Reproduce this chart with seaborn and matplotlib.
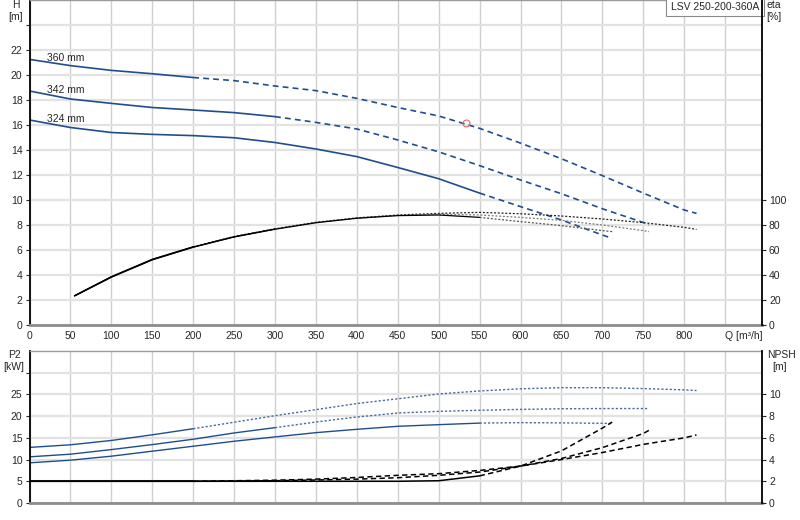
import matplotlib
matplotlib.use("Agg")
import matplotlib.pyplot as plt
import numpy as np
import seaborn as sns

# pump curves. Q in m3/h
q_360 = [0, 50, 100, 150, 200, 250, 300, 350, 400, 450, 500, 550, 600, 650, 700, 750, 800, 815]
h_360 = [21.25, 20.75, 20.37, 20.1, 19.8, 19.55, 19.12, 18.75, 18.13, 17.4, 16.72, 15.73, 14.55, 13.3, 11.95, 10.55, 9.2, 8.93]
q_342 = [0, 50, 100, 150, 200, 250, 300, 350, 400, 450, 500, 550, 600, 650, 700, 750, 757]
h_342 = [18.72, 18.08, 17.73, 17.4, 17.2, 16.99, 16.67, 16.21, 15.68, 14.8, 13.85, 12.75, 11.6, 10.5, 9.3, 8.2, 8.0]
q_324 = [0, 50, 100, 150, 200, 250, 300, 350, 400, 450, 500, 550, 600, 650, 700, 712]
h_324 = [16.4, 15.8, 15.4, 15.25, 15.15, 14.98, 14.6, 14.08, 13.47, 12.6, 11.7, 10.55, 9.47, 8.4, 7.2, 6.93]

# efficiency [%]
qe_360 = [55, 100, 150, 200, 250, 300, 350, 400, 450, 500, 550, 600, 650, 700, 750, 800, 815]
eta_360 = [23.5, 38.7, 52.6, 62.6, 70.8, 77.0, 82.2, 85.7, 88.0, 89.3, 90.1, 89.0, 87.2, 84.8, 81.9, 78.1, 76.5]
qe_342 = [55, 100, 150, 200, 250, 300, 350, 400, 450, 500, 550, 600, 650, 700, 750, 757]
eta_342 = [23.3, 38.4, 52.3, 62.4, 70.6, 76.8, 82.0, 85.5, 87.7, 88.6, 88.0, 86.1, 83.7, 80.0, 75.5, 74.7]
qe_324 = [55, 100, 150, 200, 250, 300, 350, 400, 450, 500, 550, 600, 650, 700, 712]
eta_324 = [23.2, 38.2, 52.1, 62.2, 70.4, 76.6, 81.8, 85.4, 87.5, 88.0, 86.1, 82.7, 79.5, 75.5, 74.7]

# shaft power P2 [kW]
p2_360 = [12.8, 13.4, 14.4, 15.7, 17.1, 18.6, 20.1, 21.5, 22.9, 24.0, 25.1, 25.8, 26.3, 26.55, 26.55, 26.35, 26.05, 25.9]
p2_342 = [10.63, 11.24, 12.3, 13.45, 14.68, 16.13, 17.35, 18.65, 19.8, 20.72, 21.1, 21.35, 21.55, 21.7, 21.75, 21.75, 21.75]
p2_324 = [9.25, 9.86, 10.78, 11.93, 13.07, 14.22, 15.22, 16.2, 16.97, 17.66, 18.04, 18.4, 18.5, 18.45, 18.35, 18.3]

# NPSH [m]
npsh_360 = [2.0, 2.0, 2.0, 2.0, 2.0, 2.05, 2.1, 2.2, 2.35, 2.55, 2.7, 3.0, 3.4, 4.0, 4.65, 5.4, 6.0, 6.27]
npsh_342 = [2.0, 2.0, 2.0, 2.0, 2.0, 2.02, 2.05, 2.12, 2.2, 2.33, 2.55, 2.85, 3.4, 4.1, 5.1, 6.4, 6.7]
npsh_324 = [2.0, 2.0, 2.0, 2.0, 2.0, 2.0, 2.0, 2.0, 2.0, 2.0, 2.05, 2.5, 3.4, 4.8, 6.9, 7.45]

diameters = ["360 mm", "342 mm", "324 mm"]
solid_until = [200, 300, 550]
duty_q, duty_h = [533], [16.2]
model = "LSV 250-200-360A"

BLUE = "#1f4e8f"
FONT = 7.5


def draw(ax, q, y, q_end, color, dash, lw=1.2, solid_color=None):
    q = np.asarray(q, float)
    y = np.asarray(y, float)
    i = int(np.searchsorted(q, q_end, side="right"))
    sns.lineplot(x=q[:i], y=y[:i], ax=ax, color=solid_color or color, lw=lw,
                 sort=False, estimator=None)
    if i < len(q):
        sns.lineplot(x=q[i - 1:], y=y[i - 1:], ax=ax, color=color, lw=lw,
                     linestyle=dash, sort=False, estimator=None)


def style_axes(ax, ymax, ystep, ylab_max):
    ax.set_xlim(0, 895)
    ax.set_ylim(0, ymax)
    ax.set_xticks(np.arange(0, 900, 50))
    ax.set_yticks(np.arange(0, ymax, ystep))
    ax.set_yticklabels([f"{v:g}" if v <= ylab_max else "" for v in np.arange(0, ymax, ystep)])
    ax.grid(axis="x", color="#cfcfcf", lw=1.0)
    ax.grid(axis="y", color="#e2e2e2", lw=1.6)
    ax.set_axisbelow(True)
    ax.spines["left"].set_color("black")
    ax.spines["left"].set_linewidth(1.3)
    ax.spines["right"].set_visible(False)
    ax.spines["top"].set_color("#9a9a9a")
    ax.spines["top"].set_linewidth(1.0)
    ax.spines["bottom"].set_color("#8c8c8c")
    ax.spines["bottom"].set_linewidth(2.0)
    ax.tick_params(axis="y", length=3, width=0.8, labelsize=FONT, pad=2)
    ax.set_xlabel("")
    ax.set_ylabel("")


def style_twin(ax, ymax, ystep, ylab_max):
    ax.set_ylim(0, ymax)
    ax.set_yticks(np.arange(0, ylab_max + ystep, ystep))
    ax.set_yticklabels([f"{v:g}" for v in np.arange(0, ylab_max + ystep, ystep)])
    ax.grid(False)
    for s in ["left", "top", "bottom"]:
        ax.spines[s].set_visible(False)
    ax.spines["right"].set_visible(True)
    ax.spines["right"].set_color("black")
    ax.spines["right"].set_linewidth(1.3)
    ax.tick_params(axis="y", length=3, width=0.8, labelsize=FONT, pad=2)
    ax.set_ylabel("")


sns.set_style("white")
plt.rcParams["font.family"] = ["Liberation Sans", "DejaVu Sans"]

fig = plt.figure(figsize=(8, 5.2), dpi=100)
W, H = 800, 520
x0, x1 = 29.5, 762
ax_h = fig.add_axes([x0 / W, (H - 325) / H, (x1 - x0) / W, 325 / H])
ax_p = fig.add_axes([x0 / W, (H - 503) / H, (x1 - x0) / W, (503 - 351) / H])
ax_e = ax_h.twinx()
ax_n = ax_p.twinx()

# head curves
for q, h, qs in zip([q_360, q_342, q_324], [h_360, h_342, h_324], solid_until):
    draw(ax_h, q, h, qs, BLUE, (0, (3.5, 2.5)), lw=1.2)
for q, h, lab in zip([q_360, q_342, q_324], [h_360, h_342, h_324], diameters):
    ax_h.text(21, h[0] + 0.1, lab, fontsize=FONT, ha="left", va="center")
ax_h.plot(duty_q, duty_h, "o", ms=5, mfc="none", mec="#e26a6a", mew=0.8, zorder=5)

# efficiency
eta_cols = ["#222222", "#808080", "#555555"]
for q, e, qs, c in zip([qe_360, qe_342, qe_324], [eta_360, eta_342, eta_324], solid_until, eta_cols):
    draw(ax_e, q, e, qs, c, (0, (1.6, 1.4)), lw=0.9, solid_color="black")

# power
for q, p, qs in zip([q_360, q_342, q_324], [p2_360, p2_342, p2_324], solid_until):
    draw(ax_p, q, p, qs, "#4b6b9b", (0, (1.6, 1.4)), lw=1.0, solid_color=BLUE)

# NPSH
for q, n, qs in zip([q_360, q_342, q_324], [npsh_360, npsh_342, npsh_324], solid_until):
    draw(ax_n, q, n, qs, "black", (0, (3.5, 2.2)), lw=1.1)

style_axes(ax_h, 26, 2, 22)
style_axes(ax_p, 35, 5, 25)
style_twin(ax_e, 260, 20, 100)
style_twin(ax_n, 14, 2, 10)

ax_h.set_xticklabels([str(v) for v in range(0, 850, 50)] + ["Q [m\u00b3/h]"])
ax_h.get_xticklabels()[-1].set_ha("left")
ax_h.tick_params(axis="x", length=3, width=0.8, labelsize=FONT, pad=1)
ax_p.tick_params(axis="x", length=0, labelbottom=False)
ax_e.set_xlim(0, 895)
ax_n.set_xlim(0, 895)

ax_h.text(0.9965, 0.995, model, transform=ax_h.transAxes, ha="right", va="top", fontsize=FONT,
          bbox=dict(boxstyle="square,pad=0.45", fc="white", ec="#8a8a8a", lw=0.8), zorder=6)


def ftext(px, py, s):
    fig.text(px / W, 1 - py / H, s, ha="center", va="center", fontsize=FONT)


ftext(16, 5, "H")
ftext(16, 17, "[m]")
ftext(774, 5, "eta")
ftext(774, 17, "[%]")
ftext(14, 355, "P2")
ftext(14, 367, "[kW]")
ftext(781, 355, "NPSH")
ftext(780, 367, "[m]")

fig.savefig("out.png", dpi=100)
